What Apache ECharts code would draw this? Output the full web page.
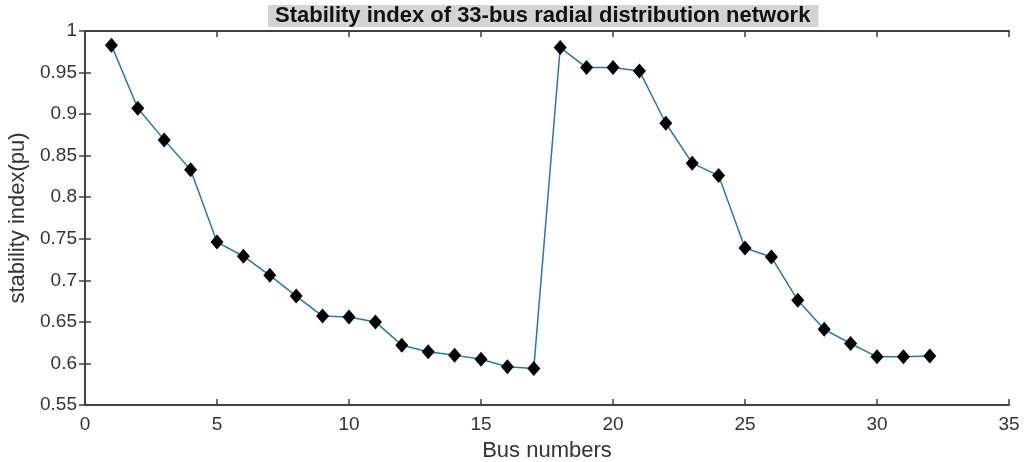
<!DOCTYPE html>
<html>
<head>
<meta charset="utf-8">
<script src="https://cdn.jsdelivr.net/npm/echarts@6/dist/echarts.min.js"></script>
<style>html,body{margin:0;padding:0;background:#fff}#c{width:1028px;height:462px}</style>
</head>
<body>
<div id="c"></div>
<script>
const busNumbers = [1,2,3,4,5,6,7,8,9,10,11,12,13,14,15,16,17,18,19,20,21,22,23,24,25,26,27,28,29,30,31,32];
const stabilityIndex = [0.983,0.907,0.869,0.833,0.746,0.729,0.706,0.681,0.657,0.656,0.650,0.622,0.614,0.610,0.605,0.596,0.594,0.980,0.956,0.956,0.952,0.889,0.841,0.826,0.739,0.728,0.676,0.641,0.624,0.608,0.608,0.609];
const titleText = 'Stability index of 33-bus radial distribution network';
const xLabel = 'Bus numbers';
const yLabel = 'stability index(pu)';

const chart = echarts.init(document.getElementById('c'));
const font = 'Liberation Sans, Arial, sans-serif';
const axLine = {show:true, lineStyle:{color:'#404040', width:1.8}};
const tick = {show:true, inside:true, length:6, lineStyle:{color:'#404040', width:1.5}};
chart.setOption({
  animation:false,
  backgroundColor:'#fff',
  title:{
    text:titleText, left:268, top:5,
    backgroundColor:'#d4d4d4', padding:[0,8,0,7],
    textStyle:{fontFamily:font, fontWeight:'bold', fontSize:22, lineHeight:22, color:'#111'}
  },
  grid:{left:85, right:19, top:31, bottom:57, containLabel:false, outerBoundsMode:'none'},
  xAxis:[{
    type:'value', min:0, max:35, interval:5,
    name:xLabel, nameLocation:'middle', nameGap:35,
    nameTextStyle:{fontFamily:font, fontSize:22, color:'#333'},
    axisLine:axLine, axisTick:tick,
    axisLabel:{fontFamily:font, fontSize:19, color:'#333', margin:10},
    splitLine:{show:false}
  },{
    type:'value', min:0, max:35, interval:5, position:'top',
    axisLine:axLine, axisTick:tick,
    axisLabel:{show:false}, splitLine:{show:false}
  }],
  yAxis:[{
    type:'value', min:0.55, max:1, interval:0.05,
    name:yLabel, nameLocation:'middle', nameGap:52,
    nameTextStyle:{fontFamily:font, fontSize:22, color:'#333'},
    axisLine:axLine, axisTick:tick,
    axisLabel:{fontFamily:font, fontSize:19, color:'#333', margin:8,
      formatter:v=>String(Math.round(v*100)/100)},
    splitLine:{show:false}
  },{
    type:'value', min:0.55, max:1, interval:0.05, position:'right',
    axisLine:axLine, axisTick:tick,
    axisLabel:{show:false}, splitLine:{show:false}
  }],
  series:[{
    type:'line',
    data:busNumbers.map((b,i)=>[b, stabilityIndex[i]]),
    symbol:'diamond', symbolSize:[13,15],
    lineStyle:{color:'#2a78aa', width:1.5},
    itemStyle:{color:'#000'}
  }]
});
</script>
</body>
</html>
